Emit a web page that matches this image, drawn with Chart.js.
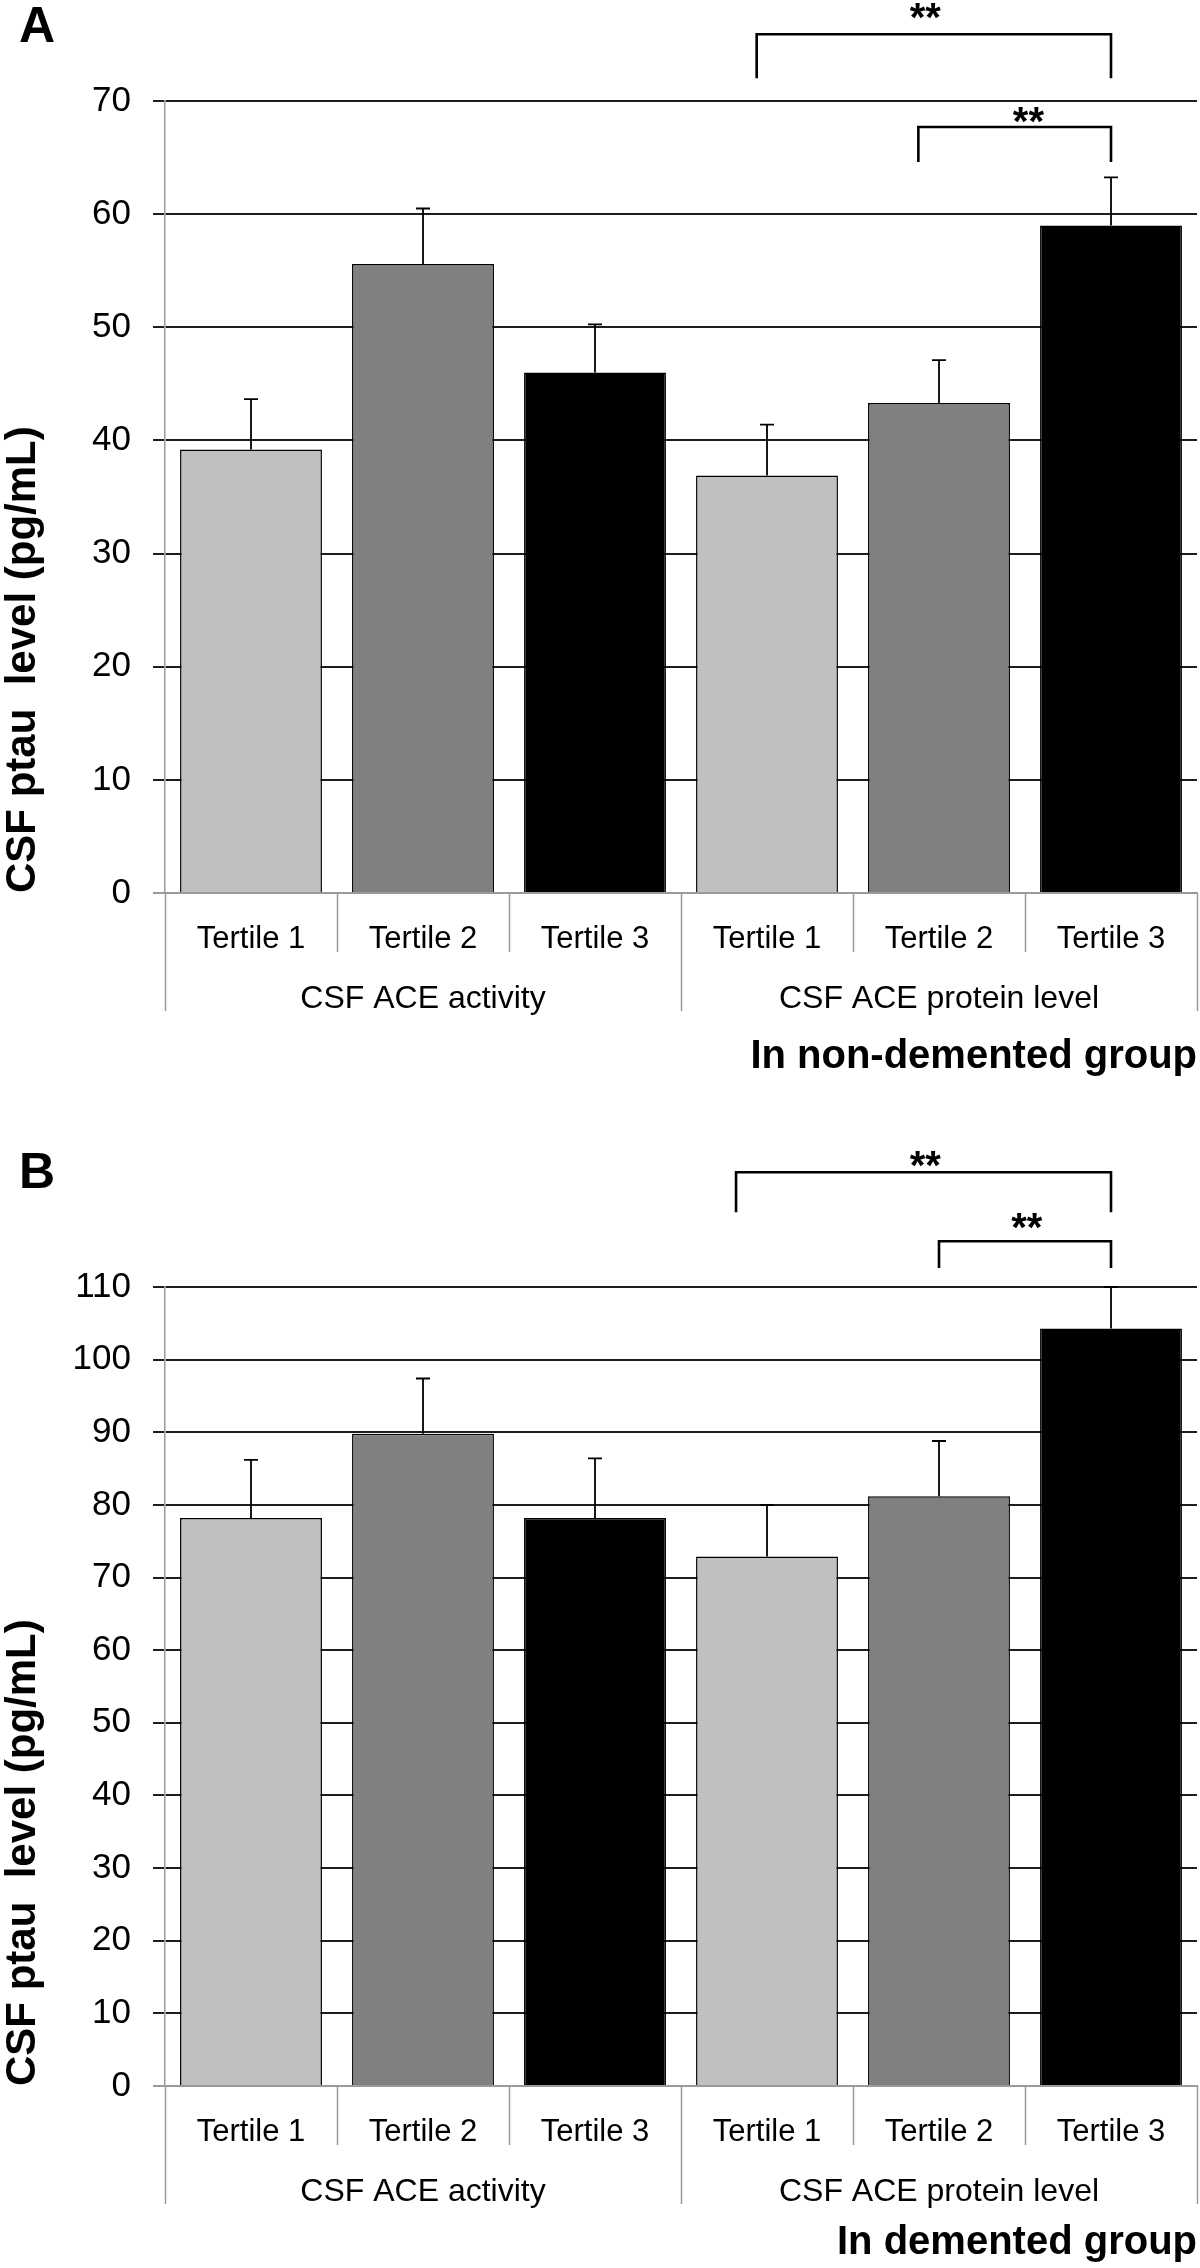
<!DOCTYPE html>
<html lang="en">
<head>
<meta charset="UTF-8">
<title>CSF ptau by ACE tertiles</title>
<script src="https://cdn.jsdelivr.net/npm/chart.js"></script>
<style>
    body { margin: 0; background: #fff; }
    .page { position: relative; width: 1200px; height: 2268px; }
    .panel { position: absolute; left: 0; width: 1200px; height: 1134px; }
    .letter { position: absolute; left: 19px; font: bold 50px/50px "Liberation Sans", Arial, sans-serif; color: #000; }
</style>
</head>
<body>
<div class="page">
    <div class="panel" style="top:0"><canvas id="chartA" width="1200" height="1134"></canvas></div>
    <div class="panel" style="top:1134px"><canvas id="chartB" width="1200" height="1134"></canvas></div>
    <div class="letter" style="top:0">A</div>
    <div class="letter" style="top:1146px">B</div>
</div>

<script>
    const tertileLabels = ['Tertile 1', 'Tertile 2', 'Tertile 3', 'Tertile 1', 'Tertile 2', 'Tertile 3'];
    const groupLabels = ['CSF ACE activity', 'CSF ACE protein level'];
    const barColors = ['#c0c0c0', '#808080', '#000000', '#c0c0c0', '#808080', '#000000'];

    // panel A: non-demented
    const nonDementedMeans = [39.2, 55.6, 46.0, 36.9, 43.3, 59.0];
    const nonDementedErrors = [4.45, 4.9, 4.25, 4.5, 3.8, 4.25];
    // brackets: category positions (index units) and heights (pg/mL units)
    const nonDementedBrackets = [
        { from: 2.94, to: 5, top: 75.9, legEnd: 72.0, starAt: 3.92, starLevel: 78.2 },
        { from: 3.88, to: 5, top: 67.7, legEnd: 64.6, starAt: 4.52, starLevel: 69.0 }
    ];

    // panel B: demented
    const dementedMeans = [78.2, 89.8, 78.2, 72.9, 81.2, 104.3];
    const dementedErrors = [8.0, 7.6, 8.2, 7.1, 7.6, 5.7];
    const dementedBrackets = [
        { from: 2.82, to: 5, top: 125.8, legEnd: 120.3, starAt: 3.92, starLevel: 128.1 },
        { from: 4.0, to: 5, top: 116.3, legEnd: 112.6, starAt: 4.51, starLevel: 119.5 }
    ];

    Chart.defaults.font.family = '"Liberation Sans", Arial, sans-serif';
    Chart.defaults.color = '#000';

    const errorBars = {
        id: 'errorBars',
        afterDatasetsDraw(chart, args, opts) {
            const ctx = chart.ctx, y = chart.scales.y;
            const values = chart.data.datasets[0].data;
            ctx.save();
            ctx.strokeStyle = '#000';
            ctx.lineWidth = 1.8;
            chart.getDatasetMeta(0).data.forEach((bar, i) => {
                const top = y.getPixelForValue(values[i] + opts.errors[i]);
                ctx.beginPath();
                ctx.moveTo(bar.x, bar.y);
                ctx.lineTo(bar.x, top);
                ctx.moveTo(bar.x - 7, top);
                ctx.lineTo(bar.x + 7, top);
                ctx.stroke();
            });
            ctx.restore();
        }
    };

    const brackets = {
        id: 'brackets',
        afterDraw(chart, args, opts) {
            const ctx = chart.ctx, x = chart.scales.x, y = chart.scales.y;
            ctx.save();
            ctx.strokeStyle = '#000';
            ctx.lineWidth = 2.6;
            ctx.fillStyle = '#000';
            ctx.font = 'bold 40px "Liberation Sans", Arial, sans-serif';
            ctx.textAlign = 'center';
            ctx.textBaseline = 'alphabetic';
            opts.items.forEach(b => {
                const x1 = x.getPixelForValue(b.from), x2 = x.getPixelForValue(b.to);
                const yt = y.getPixelForValue(b.top), yl = y.getPixelForValue(b.legEnd);
                ctx.beginPath();
                ctx.moveTo(x1, yl);
                ctx.lineTo(x1, yt);
                ctx.lineTo(x2, yt);
                ctx.lineTo(x2, yl);
                ctx.stroke();
                ctx.fillText('**', x.getPixelForValue(b.starAt), y.getPixelForValue(b.starLevel) + 23);
            });
            ctx.restore();
        }
    };

    // category / group dividers under the axis, Excel style
    const separators = {
        id: 'separators',
        afterDraw(chart) {
            const ctx = chart.ctx, x = chart.scales.x;
            const n = chart.data.labels.length;
            ctx.save();
            ctx.strokeStyle = '#9a9a9a';
            ctx.lineWidth = 1.5;
            for (let k = 0; k <= n; k++) {
                const px = Math.round(x.getPixelForValue(k - 0.5)) + 0.5;
                const len = (k % 3 === 0) ? 118 : 59;
                ctx.beginPath();
                ctx.moveTo(px, x.top);
                ctx.lineTo(px, x.top + len);
                ctx.stroke();
            }
            ctx.restore();
        }
    };

    function makeChart(id, cfg) {
        return new Chart(document.getElementById(id), {
            type: 'bar',
            data: {
                labels: tertileLabels,
                datasets: [{
                    data: cfg.means,
                    backgroundColor: barColors,
                    borderColor: '#000',
                    borderWidth: 1.5,
                    categoryPercentage: 1,
                    barPercentage: 0.825
                }]
            },
            options: {
                responsive: false,
                animation: false,
                layout: { padding: { top: cfg.padTop, right: 3, left: 0, bottom: 0 } },
                plugins: {
                    legend: { display: false },
                    tooltip: { enabled: false },
                    errorBars: { errors: cfg.errors },
                    brackets: { items: cfg.brackets }
                },
                scales: {
                    x: {
                        type: 'category',
                        position: 'bottom',
                        offset: true,
                        grid: { display: false },
                        border: { color: '#9a9a9a', width: 1.5 },
                        ticks: { font: { size: 31 }, padding: 20, maxRotation: 0, autoSkip: false },
                        afterFit: s => { s.height = 59; }
                    },
                    x2: {
                        type: 'category',
                        position: 'bottom',
                        labels: groupLabels,
                        offset: true,
                        grid: { display: false },
                        border: { display: false },
                        ticks: { font: { size: 32 }, padding: 20, maxRotation: 0, autoSkip: false },
                        title: {
                            display: true,
                            text: cfg.caption,
                            align: 'end',
                            font: { size: 40, weight: 'bold' },
                            padding: { top: 0, bottom: cfg.captionPad }
                        },
                        afterFit: s => { s.height = cfg.x2Height; }
                    },
                    y: {
                        min: 0,
                        max: cfg.max,
                        ticks: { stepSize: 10, font: { size: 35 }, padding: 22 },
                        grid: {
                            color: c => c.tick && c.tick.value === 0 ? '#9a9a9a' : '#1e1e1e',
                            lineWidth: 2,
                            tickLength: 12
                        },
                        border: { color: '#9a9a9a', width: 1.5 },
                        title: {
                            display: true,
                            text: 'CSF ptau  level (pg/mL)',
                            align: 'start',
                            font: { size: 42, weight: 'bold', lineHeight: 1.1 },
                            padding: 0
                        },
                        afterFit: s => { s.width = 165; }
                    }
                }
            },
            plugins: [errorBars, brackets, separators]
        });
    }

    makeChart('chartA', {
        means: nonDementedMeans, errors: nonDementedErrors, brackets: nonDementedBrackets,
        max: 70, padTop: 101, x2Height: 182, captionPad: 53, caption: 'In non-demented group'
    });
    makeChart('chartB', {
        means: dementedMeans, errors: dementedErrors, brackets: dementedBrackets,
        max: 110, padTop: 153, x2Height: 123, captionPad: 1, caption: 'In demented group'
    });
</script>
</body>
</html>
